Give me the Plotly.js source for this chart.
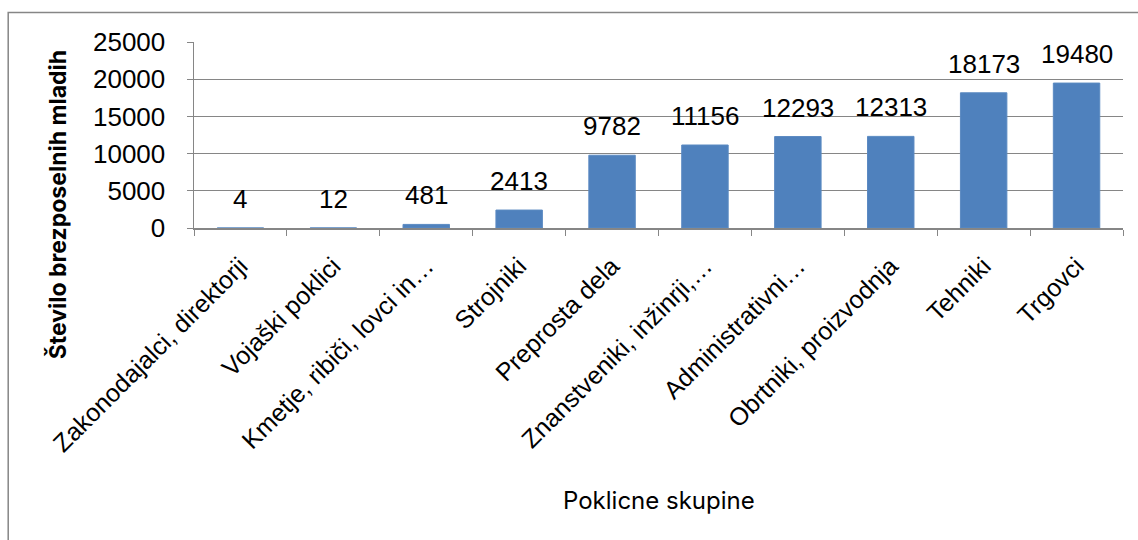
<!DOCTYPE html>
<html>
<head>
<meta charset="utf-8">
<script src="https://cdn.plot.ly/plotly-3.0.1.min.js"></script>
<style>
html,body{margin:0;padding:0;background:#fff;}
#chart{width:1138px;height:540px;}
</style>
</head>
<body>
<div id="chart"></div>
<script>
const categories = [
  "Zakonodajalci, direktorji",
  "Vojaški poklici",
  "Kmetje, ribiči, lovci in…",
  "Strojniki",
  "Preprosta dela",
  "Znanstveniki, inžinrji,…",
  "Administrativni…",
  "Obrtniki, proizvodnja",
  "Tehniki",
  "Trgovci"
];
const values = [4, 12, 481, 2413, 9782, 11156, 12293, 12313, 18173, 19480];
const yTicks = [0, 5000, 10000, 15000, 20000, 25000];
const xTitle = "Poklicne skupine";
const yTitle = "Število brezposelnih mladih";

const grid = "#868686";
const labelFont = {family: "Liberation Sans, Arial, sans-serif", size: 26, color: "#000"};

const trace = {
  type: "bar",
  x: categories,
  y: values,
  marker: {color: "#4F81BD", line: {color: "#5B8AC2", width: 1}},
  hoverinfo: "x+y"
};

const annotations = categories.map((c, i) => ({
  x: c, y: values[i], xref: "x", yref: "y",
  text: String(values[i]),
  showarrow: false, yanchor: "bottom", yshift: 12,
  font: labelFont
}));
annotations.push({
  xref: "paper", yref: "paper", x: 0.5, y: -1.465, xanchor: "center", yanchor: "middle",
  text: xTitle, showarrow: false,
  font: {family: "Inter, Roboto, sans-serif", size: 24, color: "#000"}
});
annotations.push({
  xref: "paper", yref: "paper", x: -0.146, y: 0.124, xanchor: "center", yanchor: "middle",
  text: yTitle, showarrow: false, textangle: -90,
  font: {family: "Inter, Roboto, sans-serif", size: 23, color: "#000", weight: "bold"}
});

const layout = {
  width: 1138, height: 540,
  margin: {l: 194, r: 15, t: 42, b: 312, pad: 0},
  paper_bgcolor: "#fff", plot_bgcolor: "#fff",
  showlegend: false,
  bargap: 0.5,
  xaxis: {
    type: "category",
    tickangle: -45,
    tickson: "boundaries",
    ticks: "outside", ticklen: 6, tickcolor: grid, tickwidth: 1,
    ticklabelstandoff: 12,
    showline: true, linecolor: grid, linewidth: 1.5,
    showgrid: false, automargin: false,
    tickfont: {family: "Liberation Sans, Arial, sans-serif", size: 25, color: "#000"}
  },
  yaxis: {
    range: [0, 25000],
    tickvals: yTicks,
    ticktext: yTicks.map(String),
    ticks: "outside", ticklen: 6, tickcolor: grid,
    ticklabelstandoff: 16,
    showline: true, linecolor: grid, linewidth: 1.5,
    showgrid: true, gridcolor: grid, gridwidth: 1,
    zeroline: false, automargin: false,
    tickfont: labelFont
  },
  annotations: annotations,
  shapes: [{
    type: "rect", xref: "paper", yref: "paper",
    x0: -0.2, x1: 1.05, y0: -1.9, y1: 1.158,
    line: {color: grid, width: 1.5}, fillcolor: "rgba(0,0,0,0)", layer: "above"
  }]
};

Plotly.newPlot("chart", [trace], layout, {displayModeBar: false, staticPlot: true});
</script>
</body>
</html>
